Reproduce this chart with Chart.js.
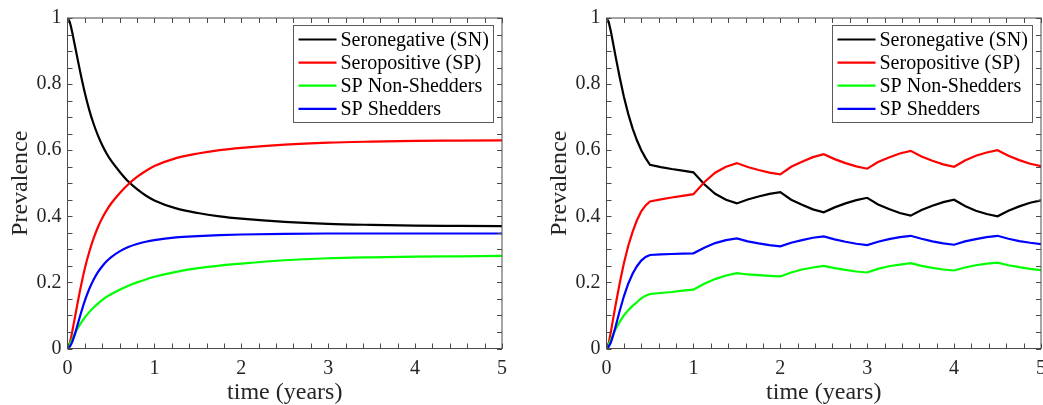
<!DOCTYPE html>
<html>
<head>
<meta charset="utf-8">
<title>Prevalence over time</title>
<script src="https://cdn.jsdelivr.net/npm/chart.js@4/dist/chart.umd.min.js"></script>
<style>
  html, body { margin: 0; padding: 0; background: #fff; overflow: hidden; width: 1043px; height: 405px; }
  canvas { position: absolute; top: 0; }
  #left { left: 0; }
  #right { left: 539px; }
</style>
</head>
<body>
<canvas id="left" width="521" height="420"></canvas>
<canvas id="right" width="521" height="420"></canvas>
<script>
// ---- series names and colours ----
const seriesLabels = ['Seronegative (SN)', 'Seropositive (SP)', 'SP Non-Shedders', 'SP Shedders'];
const seriesColors = ['#000000', '#ff0000', '#00ff00', '#0000ff'];

// ---- left panel: constant transmission (time in years) ----
const tLeft = [0, 0.025, 0.05, 0.075, 0.1, 0.15, 0.2, 0.25, 0.3, 0.35, 0.4, 0.45, 0.5, 0.6, 0.7, 0.8, 0.9, 1,
  1.25, 1.5, 1.75, 2, 2.5, 3, 3.5, 4, 4.5, 5];
const snLeft = [1, 0.988, 0.962, 0.93, 0.897, 0.832, 0.773, 0.722, 0.68, 0.645, 0.615, 0.59, 0.569, 0.535, 0.505, 0.482, 0.463, 0.448,
  0.424, 0.41, 0.4, 0.393, 0.383, 0.377, 0.374, 0.372, 0.371, 0.37];
const spLeft = [0, 0.015, 0.045, 0.08, 0.115, 0.183, 0.243, 0.292, 0.333, 0.367, 0.395, 0.418, 0.438, 0.47, 0.497, 0.519, 0.537, 0.552,
  0.576, 0.59, 0.6, 0.607, 0.617, 0.623, 0.626, 0.628, 0.629, 0.63];
const nonShedLeft = [0, 0.012, 0.026, 0.04, 0.053, 0.075, 0.094, 0.11, 0.124, 0.136, 0.147, 0.156, 0.164, 0.178, 0.19, 0.2, 0.209, 0.217,
  0.232, 0.243, 0.251, 0.257, 0.267, 0.273, 0.276, 0.278, 0.279, 0.28];
const shedLeft = [0, 0.005, 0.017, 0.035, 0.057, 0.103, 0.145, 0.18, 0.208, 0.231, 0.249, 0.264, 0.276, 0.294, 0.307, 0.316, 0.323, 0.328,
  0.336, 0.34, 0.343, 0.345, 0.347, 0.348, 0.348, 0.348, 0.348, 0.348];

// ---- right panel: seasonal (half-yearly) switching ----
const tRight = [0, 0.025, 0.05, 0.075, 0.1, 0.15, 0.2, 0.25, 0.3, 0.35, 0.4, 0.45, 0.5,
  0.625, 0.75, 0.875, 1, 1.125, 1.25, 1.375, 1.5, 1.625, 1.75, 1.875, 2,
  2.125, 2.25, 2.375, 2.5, 2.625, 2.75, 2.875, 3, 3.125, 3.25, 3.375, 3.5,
  3.625, 3.75, 3.875, 4, 4.125, 4.25, 4.375, 4.5, 4.625, 4.75, 4.875, 5];
const snRight = [1, 0.988, 0.96, 0.925, 0.89, 0.823, 0.762, 0.71, 0.666, 0.63, 0.6, 0.576, 0.556,
  0.549, 0.543, 0.538, 0.533, 0.497, 0.468, 0.45, 0.439, 0.451, 0.46, 0.468, 0.473,
  0.45, 0.435, 0.421, 0.412, 0.427, 0.439, 0.449, 0.456, 0.436, 0.422, 0.41, 0.402,
  0.419, 0.432, 0.443, 0.45, 0.431, 0.417, 0.407, 0.4, 0.417, 0.43, 0.441, 0.448];
const spRight = [0, 0.016, 0.05, 0.088, 0.125, 0.195, 0.258, 0.31, 0.353, 0.388, 0.415, 0.433, 0.445,
  0.451, 0.457, 0.462, 0.467, 0.503, 0.532, 0.55, 0.561, 0.549, 0.54, 0.532, 0.527,
  0.55, 0.565, 0.579, 0.588, 0.573, 0.561, 0.551, 0.544, 0.564, 0.578, 0.59, 0.598,
  0.581, 0.568, 0.557, 0.55, 0.569, 0.583, 0.593, 0.6, 0.583, 0.57, 0.559, 0.552];
const nonShedRight = [0, 0.012, 0.027, 0.042, 0.056, 0.08, 0.1, 0.116, 0.129, 0.14, 0.152, 0.16, 0.165,
  0.168, 0.171, 0.175, 0.178, 0.196, 0.21, 0.221, 0.228, 0.224, 0.222, 0.22, 0.218,
  0.23, 0.239, 0.245, 0.25, 0.243, 0.238, 0.233, 0.23, 0.241, 0.249, 0.254, 0.258,
  0.25, 0.244, 0.239, 0.236, 0.245, 0.252, 0.257, 0.26, 0.252, 0.246, 0.241, 0.237];
const shedRight = [0, 0.005, 0.018, 0.038, 0.062, 0.112, 0.158, 0.196, 0.226, 0.249, 0.266, 0.277, 0.283,
  0.285, 0.286, 0.287, 0.288, 0.305, 0.319, 0.328, 0.333, 0.324, 0.318, 0.313, 0.309,
  0.32, 0.328, 0.335, 0.339, 0.33, 0.323, 0.317, 0.313, 0.323, 0.331, 0.337, 0.341,
  0.332, 0.324, 0.318, 0.314, 0.324, 0.331, 0.337, 0.341, 0.332, 0.325, 0.32, 0.316];

// ---- styling ----
const FONT = "'Liberation Serif', 'Times New Roman', serif";
const TEXT_COLOR = '#262626';
const BOX_COLOR = '#4a4a4a';
const X_MINOR_STEP = 0.2;
const Y_MINOR_STEP = 0.05;
const TICK_LEN = 5;

// Axes box with inward tick marks on all four sides, plus a boxed legend
const boxAndLegend = {
  id: 'boxAndLegend',
  afterDraw(chart) {
    const { ctx, chartArea: a, scales: { x, y } } = chart;
    ctx.save();
    ctx.strokeStyle = BOX_COLOR;
    ctx.lineWidth = 1;
    ctx.beginPath();
    const nx = Math.round((x.max - x.min) / X_MINOR_STEP);
    for (let i = 0; i <= nx; i++) {
      const px = Math.round(x.getPixelForValue(x.min + i * X_MINOR_STEP)) + 0.5;
      ctx.moveTo(px, a.bottom); ctx.lineTo(px, a.bottom - TICK_LEN);
      ctx.moveTo(px, a.top); ctx.lineTo(px, a.top + TICK_LEN);
    }
    const ny = Math.round((y.max - y.min) / Y_MINOR_STEP);
    for (let i = 0; i <= ny; i++) {
      const py = Math.round(y.getPixelForValue(y.min + i * Y_MINOR_STEP)) + 0.5;
      ctx.moveTo(a.left, py); ctx.lineTo(a.left + TICK_LEN, py);
      ctx.moveTo(a.right, py); ctx.lineTo(a.right - TICK_LEN, py);
    }
    ctx.stroke();
    ctx.strokeRect(a.left, a.top, a.right - a.left, a.bottom - a.top);

    // legend box in the upper-right corner of the plot area
    const lw = 200, lh = 97;
    const lx = Math.round(a.right - 209) + 0.5;
    const ly = Math.round(a.top + 7) + 0.5;
    ctx.fillStyle = '#ffffff';
    ctx.fillRect(lx, ly, lw, lh);
    ctx.strokeStyle = '#5a5a5a';
    ctx.strokeRect(lx, ly, lw, lh);
    ctx.font = '20px ' + FONT;
    ctx.textBaseline = 'middle';
    ctx.textAlign = 'left';
    chart.data.datasets.forEach((ds, i) => {
      const rowY = ly + 14 + i * 23.1;
      ctx.strokeStyle = ds.borderColor;
      ctx.lineWidth = 2.2;
      ctx.beginPath();
      ctx.moveTo(lx + 5, rowY);
      ctx.lineTo(lx + 43, rowY);
      ctx.stroke();
      ctx.fillStyle = '#000000';
      ctx.fillText(ds.label, lx + 47, rowY + 1);
    });
    ctx.restore();
  }
};

// tick labels without trailing zeros: 0, 0.2, ..., 1
const plainNumber = v => String(Math.round(v * 100) / 100);

function makeChart(canvasId, t, series, smooth) {
  const datasets = series.map((vals, i) => ({
    label: seriesLabels[i],
    data: t.map((tt, k) => ({ x: tt, y: vals[k] })),
    borderColor: seriesColors[i],
    backgroundColor: seriesColors[i],
    borderWidth: 2.2,
    pointRadius: 0,
    fill: false,
    tension: 0,
    cubicInterpolationMode: smooth ? 'monotone' : 'default',
    order: series.length - i
  }));
  return new Chart(document.getElementById(canvasId), {
    type: 'line',
    data: { datasets },
    options: {
      responsive: false,
      animation: false,
      devicePixelRatio: 1,
      layout: { padding: { left: 0, right: 19, top: 17.5, bottom: 0 } },
      plugins: { legend: { display: false }, tooltip: { enabled: false } },
      scales: {
        x: {
          type: 'linear', min: 0, max: 5,
          grid: { display: false, drawTicks: false },
          border: { display: false },
          ticks: { stepSize: 1, color: TEXT_COLOR, padding: 8, font: { family: FONT, size: 20 },
                   callback: plainNumber },
          title: { display: true, text: 'time (years)', color: TEXT_COLOR,
                   font: { family: FONT, size: 24 }, padding: { top: 0, bottom: 12.6 } },
          afterFit(s) { s.height = 71.5; s.paddingLeft = 0; s.paddingRight = 0; }
        },
        y: {
          type: 'linear', min: 0, max: 1,
          grid: { display: false, drawTicks: false },
          border: { display: false },
          ticks: { stepSize: 0.2, color: TEXT_COLOR, padding: 6, font: { family: FONT, size: 20 },
                   callback: plainNumber },
          title: { display: true, text: 'Prevalence', color: TEXT_COLOR,
                   font: { family: FONT, size: 24 }, padding: { top: 6, bottom: 0 } },
          afterFit(s) { s.width = 67.5; }
        }
      }
    },
    plugins: [boxAndLegend]
  });
}

makeChart('left', tLeft, [snLeft, spLeft, nonShedLeft, shedLeft], true);
makeChart('right', tRight, [snRight, spRight, nonShedRight, shedRight], false);
</script>
</body>
</html>
